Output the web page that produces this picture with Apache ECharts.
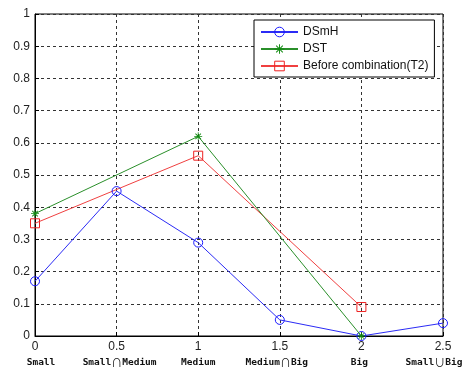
<!DOCTYPE html>
<html>
<head>
	<meta charset="UTF-8" />
	<title></title>
	<style type="text/css">
		* { margin: 0; padding: 0; }
		#main { width: 465px; height: 374px; background: #fff; }
	</style>
</head>
<body>
	<div id="main"></div>
</body>
<script src="https://cdn.jsdelivr.net/npm/echarts@6/dist/echarts.min.js"></script>
<script type="text/javascript">
	// 焦元标签（x轴 0,0.5,...,2.5）
	var focalLabels = ['Small', 'Small\u2229Medium', 'Medium', 'Medium\u2229Big', 'Big', 'Small\u222aBig']
	var xTicks = [0, 0.5, 1, 1.5, 2, 2.5]
	var dsmhVals = [0.17, 0.45, 0.29, 0.05, 0.0, 0.04]
	var dstX = [0, 1, 2]
	var dstVals = [0.38, 0.62, 0.0]
	var t2X = [0, 1, 2]
	var t2Vals = [0.35, 0.56, 0.09]

	// 标签水平偏移(px)，原图中文字不完全居中于刻度
	var labelShift = [6, 3, 0, -3, -2, -9]

	function pairs(xs, ys) {
		return xs.map(function (x, i) { return [x, ys[i]] })
	}

	var richStyles = {
		c: { fontFamily: 'DejaVu Sans Mono, monospace', fontWeight: 'bold', fontSize: 9.5, color: '#111', padding: [3, 0, 0, 0] },
		s: { fontFamily: 'Noto Sans CJK SC, DejaVu Sans', fontSize: 11, color: '#111', padding: [3, 0, 0, 0] }
	}
	labelShift.forEach(function (d) {
		var w = Math.abs(d) * 2
		if (w) richStyles['w' + w] = { width: w, fontSize: 9 }
	})

	// ∩ / ∪ 用另一种字体显示
	function richLabel(s, shift) {
		var body = s.split(/([\u2229\u222a])/).filter(function (p) { return p }).map(function (p) {
			return (p === '\u2229' || p === '\u222a') ? '{s|' + p + '}' : '{c|' + p + '}'
		}).join('')
		var w = Math.abs(shift) * 2
		if (!w) return body
		var gap = '{w' + w + '|\u00a0}'
		return shift > 0 ? gap + body : body + gap
	}

	// 星号标记
	var starPath = 'path://M-0.5,-5 L0.5,-5 L0.5,5 L-0.5,5 Z M-5,-0.5 L5,-0.5 L5,0.5 L-5,0.5 Z ' +
		'M-3.8,-3.1 L-3.1,-3.8 L3.8,3.1 L3.1,3.8 Z M3.1,-3.8 L3.8,-3.1 L-3.1,3.8 L-3.8,3.1 Z'

	var myChart = echarts.init(document.getElementById('main'))
	var gridLine = { show: true, lineStyle: { color: '#333', type: [3, 3], width: 1 } }

	var option = {
		backgroundColor: '#fff',
		animation: false,
		textStyle: { fontFamily: 'Liberation Sans, Arial, sans-serif' },
		grid: {
			left: 35, right: 22, top: 14, bottom: 38,
			outerBoundsMode: 'none', containLabel: false,
			show: true, borderColor: '#000', borderWidth: 1
		},
		legend: {
			left: 254, top: 20, width: 180,
			orient: 'vertical',
			backgroundColor: '#fff',
			borderColor: '#000', borderWidth: 1, borderRadius: 0,
			padding: [6, 6, 5, 6],
			itemGap: 5,
			itemWidth: 37, itemHeight: 12,
			itemStyle: { borderWidth: 1 },
			textStyle: { fontSize: 12, color: '#111' },
			data: ['DSmH', 'DST', 'Before combination(T2)']
		},
		xAxis: {
			type: 'value', min: 0, max: 2.5, interval: 0.5,
			axisLine: { show: true, lineStyle: { color: '#000' } },
			axisTick: { show: true, inside: true, length: 4, lineStyle: { color: '#000' } },
			splitLine: gridLine,
			axisLabel: {
				color: '#222', fontSize: 12, margin: 4, lineHeight: 14,
				formatter: function (v) {
					var i = xTicks.indexOf(v)
					return v + '\n' + (i >= 0 ? richLabel(focalLabels[i], labelShift[i]) : '')
				},
				rich: richStyles
			}
		},
		yAxis: {
			type: 'value', min: 0, max: 1, interval: 0.1,
			axisLine: { show: true, lineStyle: { color: '#000' } },
			axisTick: { show: true, inside: true, length: 4, lineStyle: { color: '#000' } },
			splitLine: gridLine,
			axisLabel: { color: '#222', fontSize: 12, margin: 5 }
		},
		series: [{
			name: 'DSmH', type: 'line',
			data: pairs(xTicks, dsmhVals),
			symbol: 'circle', symbolSize: 9,
			itemStyle: { color: 'rgba(0,0,0,0)', borderColor: '#1a1aff', borderWidth: 1 },
			lineStyle: { color: '#2b2bf5', width: 1 },
			z: 3
		}, {
			name: 'DST', type: 'line',
			data: pairs(dstX, dstVals),
			symbol: starPath, symbolSize: 8,
			itemStyle: { color: '#108a10' },
			lineStyle: { color: '#2a8f2a', width: 1 },
			z: 4
		}, {
			name: 'Before combination(T2)', type: 'line',
			data: pairs(t2X, t2Vals),
			symbol: 'rect', symbolSize: 9,
			itemStyle: { color: 'rgba(0,0,0,0)', borderColor: '#ee2222', borderWidth: 1 },
			lineStyle: { color: '#f04040', width: 1 },
			z: 2
		}]
	}
	myChart.setOption(option)
</script>
</html>
